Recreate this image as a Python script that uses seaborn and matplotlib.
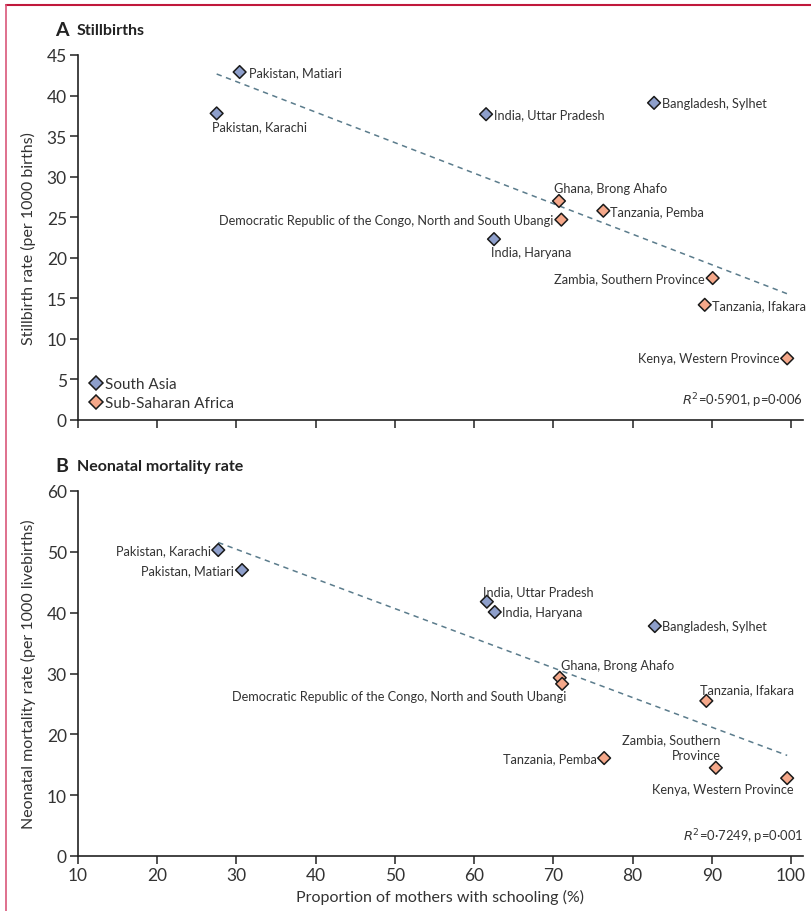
import numpy as np
import pandas as pd
import matplotlib
matplotlib.use("Agg")
import matplotlib.pyplot as plt
from matplotlib.lines import Line2D
import seaborn as sns

# ---------------- data ----------------
sites = ["Pakistan, Matiari", "Pakistan, Karachi", "India, Uttar Pradesh",
         "Bangladesh, Sylhet", "India, Haryana", "Ghana, Brong Ahafo",
         "Tanzania, Pemba", "Democratic Republic of the Congo, North and South Ubangi",
         "Zambia, Southern Province", "Tanzania, Ifakara", "Kenya, Western Province"]
region = ["South Asia"] * 5 + ["Sub-Saharan Africa"] * 6
schooling_a = [30.4, 27.5, 61.5, 82.7, 62.5, 70.7, 76.3, 71.0, 90.1, 89.1, 99.5]
stillbirth = [42.9, 37.8, 37.7, 39.1, 22.3, 27.0, 25.8, 24.7, 17.5, 14.2, 7.6]
schooling_b = [30.7, 27.7, 61.6, 82.8, 62.6, 70.8, 76.4, 71.1, 90.5, 89.3, 99.5]
neonatal = [47.0, 50.3, 41.8, 37.8, 40.1, 29.3, 16.1, 28.3, 14.5, 25.5, 12.8]
stats_a = "=0·5901, p=0·006"
stats_b = "=0·7249, p=0·001"
labels_b = {"Zambia, Southern Province": "Zambia, Southern\nProvince"}

# label placement (pixel offsets, alignment)
offs_a = {
    "Pakistan, Matiari": (9, 0, "left"),
    "Pakistan, Karachi": (-5, -13, "left"),
    "India, Uttar Pradesh": (8, 0, "left"),
    "Bangladesh, Sylhet": (8, 0, "left"),
    "India, Haryana": (-3, -13, "left"),
    "Ghana, Brong Ahafo": (-5, 13, "left"),
    "Tanzania, Pemba": (7, 0, "left"),
    "Democratic Republic of the Congo, North and South Ubangi": (-8, 0, "right"),
    "Zambia, Southern Province": (-8, 0, "right"),
    "Tanzania, Ifakara": (7, 0, "left"),
    "Kenya, Western Province": (-8, 0, "right"),
}
offs_b = {
    "Pakistan, Matiari": (-8, 0, "right"),
    "Pakistan, Karachi": (-7, 0, "right"),
    "India, Uttar Pradesh": (-4, 11, "left"),
    "Bangladesh, Sylhet": (7, 0, "left"),
    "India, Haryana": (7, 0, "left"),
    "Ghana, Brong Ahafo": (1, 13, "left"),
    "Tanzania, Pemba": (-7, 0, "right"),
    "Democratic Republic of the Congo, North and South Ubangi": (4, -12, "right"),
    "Zambia, Southern Province": (5, 21, "right"),
    "Tanzania, Ifakara": (-6, 12, "left"),
    "Kenya, Western Province": (6, -11, "right"),
}

sns.set_theme(style="ticks")
FONT = ["Lato", "DejaVu Sans"]
plt.rcParams["font.family"] = FONT
TXT = "#333333"
plt.rcParams.update({"axes.edgecolor": "#222222", "xtick.color": "#222222",
                     "ytick.color": "#222222", "xtick.labelcolor": TXT,
                     "ytick.labelcolor": TXT})

palette = {"South Asia": "#8e9fcb", "Sub-Saharan Africa": "#f5a88a"}

fig = plt.figure(figsize=(8.11, 9.12), dpi=100)
W, H = 811, 912
def ax_rect(x0, x1, ytop, ybot):
    return [x0 / W, 1 - ybot / H, (x1 - x0) / W, (ybot - ytop) / H]

axA = fig.add_axes(ax_rect(78, 803, 56, 421))
axB = fig.add_axes(ax_rect(78, 803, 492, 857))

def panel(ax, xs, ys, offs, ylim, yticks, ylabel, stats, show_xlabels, legend, relabel):
    df = pd.DataFrame({"site": sites, "region": region, "x": xs, "y": ys})
    sns.regplot(data=df, x="x", y="y", ax=ax, scatter=False, ci=None, truncate=True,
                line_kws=dict(color="#5b7c8c", lw=1.1, ls=(0, (3.5, 3.0))))
    sns.scatterplot(data=df, x="x", y="y", hue="region", palette=palette, marker="D",
                    s=42, edgecolor="#1a1a1a", linewidth=1.1, ax=ax, legend=False, zorder=3)
    for s, x, y in zip(sites, xs, ys):
        dx, dy, ha = offs[s]
        ax.annotate(relabel.get(s, s), (x, y), xytext=(dx, dy), textcoords="offset pixels",
                    ha=ha, va="center", fontsize=9.2, color=TXT, linespacing=1.35)
    ax.set_xlim(10, 101.5)
    ax.set_ylim(*ylim)
    ax.set_xticks(np.arange(10, 101, 10))
    ax.set_yticks(yticks)
    ax.tick_params(axis="both", length=6, width=1.1, labelsize=12.5, pad=2)
    if not show_xlabels:
        ax.tick_params(axis="x", labelbottom=False)
    ax.set_xlabel("")
    ax.set_ylabel(ylabel, fontsize=11.5, color=TXT, labelpad=8)
    for sp in ("top", "right"):
        ax.spines[sp].set_visible(False)
    for sp in ("left", "bottom"):
        ax.spines[sp].set_linewidth(1.2)
    ax.text(1.0, 0.055, r"$\mathit{R}^{2}$" + stats, transform=ax.transAxes, ha="right",
            va="center", fontsize=9.4, color=TXT)
    if legend:
        handles = [Line2D([], [], marker="D", ls="", markersize=6.8, markerfacecolor=palette[k],
                          markeredgecolor="#1a1a1a", markeredgewidth=1.1, label=k)
                   for k in palette]
        ax.legend(handles=handles, loc="lower left", frameon=False, fontsize=11,
                  handlelength=1.0, handletextpad=0.1, labelspacing=0.3, borderaxespad=0.25,
                  labelcolor=TXT, bbox_to_anchor=(0.0, 0.0))

panel(axA, schooling_a, stillbirth, offs_a, (0, 45), np.arange(0, 46, 5),
      "Stillbirth rate (per 1000 births)", stats_a, False, True, {})
panel(axB, schooling_b, neonatal, offs_b, (0, 60), np.arange(0, 61, 10),
      "Neonatal mortality rate (per 1000 livebirths)", stats_b, True, False, labels_b)

axB.set_xlabel("Proportion of mothers with schooling (%)", fontsize=11.5, color=TXT, labelpad=4)

# panel titles
fig.text(55 / W, 1 - 31 / H, "A", fontsize=14, fontweight="bold", color="#222222", va="center")
fig.text(77 / W, 1 - 31 / H, "Stillbirths", fontsize=11.5, fontweight="bold", color="#222222", va="center")
fig.text(55 / W, 1 - 467 / H, "B", fontsize=14, fontweight="bold", color="#222222", va="center")
fig.text(77 / W, 1 - 467 / H, "Neonatal mortality rate", fontsize=11.5, fontweight="bold",
         color="#222222", va="center")

# frame lines
fig.add_artist(Line2D([6 / W, 1], [1 - 5.5 / H, 1 - 5.5 / H], color="#c0183c", lw=1.5,
                      transform=fig.transFigure))
fig.add_artist(Line2D([6 / W, 6 / W], [0, 1 - 5.5 / H], color="#d9577a", lw=1.2,
                      transform=fig.transFigure))

fig.savefig("out.png", dpi=100, facecolor="white")
